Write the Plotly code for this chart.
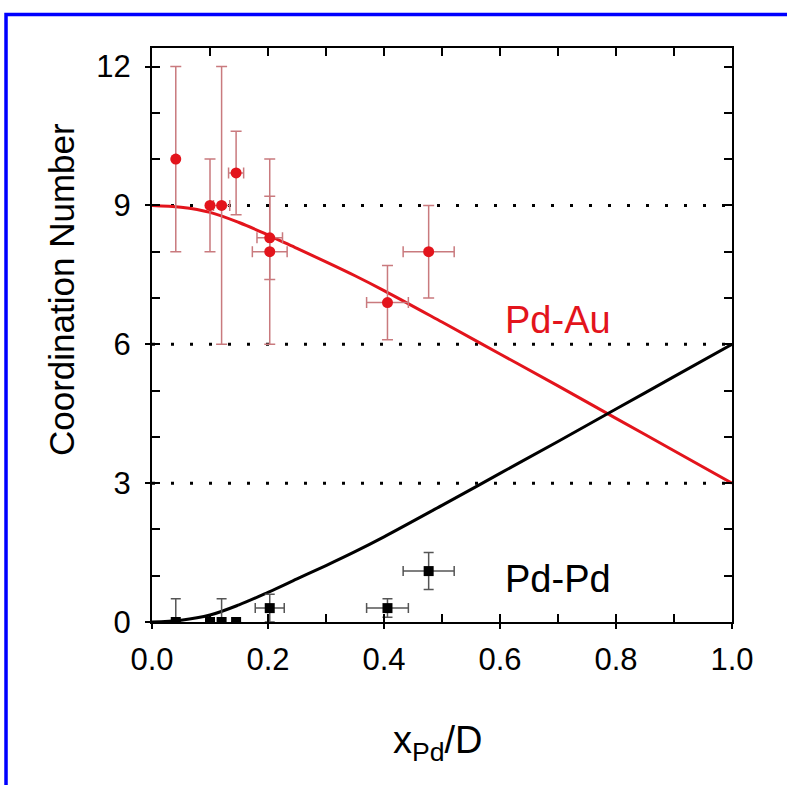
import plotly.graph_objects as go

# Model curves: coordination numbers vs x_Pd/D
curve_x = [0.0, 0.05, 0.1, 0.15, 0.2, 0.25, 0.3, 0.35, 0.4, 0.5, 0.6, 0.7, 0.8, 0.9, 1.0]
curve_pdpd = [0.0, 0.04, 0.15, 0.37, 0.64, 0.93, 1.22, 1.52, 1.84, 2.52, 3.21, 3.9, 4.6, 5.3, 6.0]
curve_pdau = [9.0, 8.96, 8.85, 8.63, 8.36, 8.07, 7.78, 7.48, 7.16, 6.48, 5.79, 5.1, 4.4, 3.7, 3.0]

# Measured Pd-Au coordination numbers
pdau_x = [0.041, 0.100, 0.120, 0.145, 0.203, 0.203, 0.406, 0.477]
pdau_xerr = [0.0, 0.0, 0.014, 0.013, 0.022, 0.030, 0.036, 0.044]
pdau_y = [10.0, 9.0, 9.0, 9.7, 8.3, 8.0, 6.9, 8.0]
pdau_yerr = [2.0, 1.0, 3.0, 0.9, 0.9, 2.0, 0.8, 1.0]

# Measured Pd-Pd coordination numbers
pdpd_x = [0.041, 0.100, 0.120, 0.145, 0.203, 0.406, 0.477]
pdpd_xerr = [0.0, 0.0, 0.0, 0.0, 0.025, 0.036, 0.044]
pdpd_y = [0.0, 0.0, 0.0, 0.0, 0.3, 0.3, 1.1]
pdpd_yerr = [0.5, 0.0, 0.5, 0.0, 0.3, 0.2, 0.4]

ref_levels = [3, 6, 9]
x_ticks = [0.0, 0.2, 0.4, 0.6, 0.8, 1.0]
y_ticks = [0, 3, 6, 9, 12]

RED = "#e3141c"
RED_ERR = "#c97a7e"
BLACK_ERR = "#555555"
FONT = "Liberation Sans, Arial, sans-serif"

fig = go.Figure()

# dotted reference levels
for lv in ref_levels:
    fig.add_trace(go.Scatter(
        x=[0, 1], y=[lv, lv], mode="lines",
        line=dict(color="black", width=3, dash="3px,16px"),
        showlegend=False, hoverinfo="skip"))

fig.add_trace(go.Scatter(
    x=curve_x, y=curve_pdau, mode="lines", line_shape="spline",
    line=dict(color=RED, width=3), showlegend=False))
fig.add_trace(go.Scatter(
    x=curve_x, y=curve_pdpd, mode="lines", line_shape="spline",
    line=dict(color="black", width=3), showlegend=False))

fig.add_trace(go.Scatter(
    x=pdau_x, y=pdau_y, mode="markers",
    marker=dict(color=RED, size=11, symbol="circle"),
    error_y=dict(type="data", array=pdau_yerr, color=RED_ERR, thickness=1.5, width=5.5),
    error_x=dict(type="data", array=pdau_xerr, color=RED_ERR, thickness=1.5, width=5.5),
    showlegend=False))
fig.add_trace(go.Scatter(
    x=pdpd_x, y=pdpd_y, mode="markers",
    marker=dict(color="black", size=10, symbol="square"),
    error_y=dict(type="data", array=pdpd_yerr, color=BLACK_ERR, thickness=1.5, width=5),
    error_x=dict(type="data", array=pdpd_xerr, color=BLACK_ERR, thickness=1.5, width=5),
    showlegend=False))

# companion axes that carry the outward half of the major ticks
fig.add_trace(go.Scatter(x=[], y=[], xaxis="x2", yaxis="y2",
                         showlegend=False, hoverinfo="skip"))

fig.add_annotation(x=0.70, y=6.52, text="Pd-Au", showarrow=False,
                   font=dict(family=FONT, size=38, color=RED))
fig.add_annotation(x=0.70, y=0.93, text="Pd-Pd", showarrow=False,
                   font=dict(family=FONT, size=38, color="black"))

fig.add_annotation(xref="paper", yref="paper", x=-0.157, y=0.58,
                   xanchor="center", yanchor="middle",
                   text="Coordination Number", textangle=-90, showarrow=False,
                   font=dict(family=FONT, size=35, color="black"))
fig.add_annotation(xref="paper", yref="paper", x=0.493, y=-0.21,
                   xanchor="center", yanchor="middle",
                   text="x<sub>Pd</sub>/D", showarrow=False,
                   font=dict(family=FONT, size=38, color="black"))

# frame border (left and top edges), running off the right of the page
fig.add_shape(type="path", xref="paper", yref="paper",
              path="M -0.2517 -0.29 L -0.2517 1.0584 L 1.25 1.0584",
              line=dict(color="#0000ff", width=3.5))

axis_common = dict(showgrid=False, zeroline=False, showline=True,
                   linecolor="black", linewidth=2, mirror="ticks",
                   ticks="inside", ticklen=8, tickwidth=2, tickcolor="black",
                   tickfont=dict(family=FONT, size=31, color="black"))

fig.update_layout(
    width=787, height=785,
    margin=dict(l=152, r=55, t=48, b=163),
    paper_bgcolor="white", plot_bgcolor="white",
    xaxis=dict(range=[0, 1], tickvals=x_ticks, tickformat=".1f",
               minor=dict(dtick=0.1, ticks="inside", ticklen=8, tickwidth=2, tickcolor="black"),
               ticklabelstandoff=9, **axis_common),
    yaxis=dict(range=[0, 12.4], tickvals=y_ticks,
               minor=dict(dtick=1, ticks="inside", ticklen=8, tickwidth=2, tickcolor="black"),
               ticklabelstandoff=13, **axis_common),
    xaxis2=dict(overlaying="x", anchor="y2", side="bottom", range=[0, 1],
                tickvals=x_ticks, ticks="outside", ticklen=6, tickwidth=2,
                tickcolor="black", showticklabels=False, showline=False,
                showgrid=False, zeroline=False),
    yaxis2=dict(overlaying="y", anchor="x2", side="left", range=[0, 12.4],
                tickvals=y_ticks, ticks="outside", ticklen=6, tickwidth=2,
                tickcolor="black", showticklabels=False, showline=False,
                showgrid=False, zeroline=False),
)

fig.write_html("out.html", config={"displayModeBar": False})
